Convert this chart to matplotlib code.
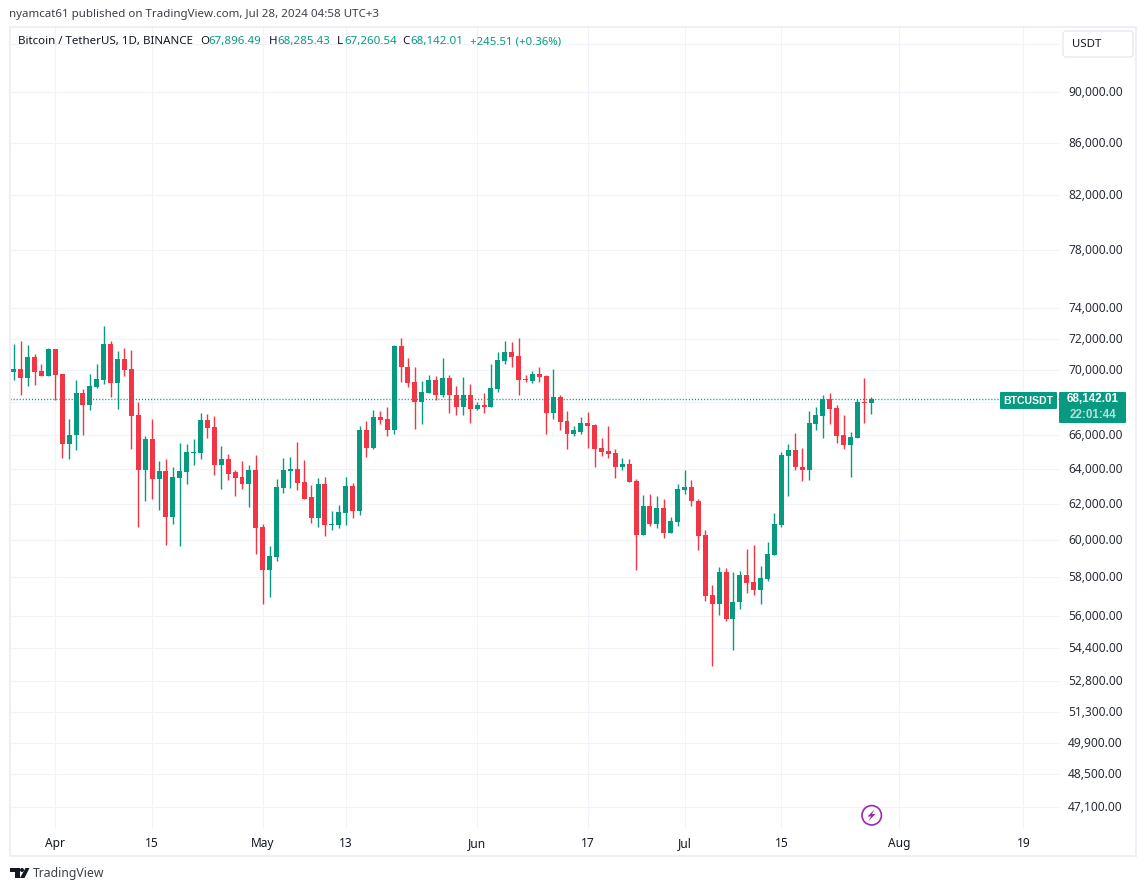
import matplotlib
matplotlib.use("Agg")
import pandas as pd
import matplotlib.dates as mdates
from matplotlib import pyplot as plt
from matplotlib.patches import Circle, FancyBboxPatch, Polygon, Rectangle
from matplotlib.transforms import ScaledTranslation

plt.rcParams['font.family'] = ['Noto Sans', 'DejaVu Sans']

GREEN = "#089981"
RED = "#F23645"
GRID = "#F0F3FA"
TEXT = "#131722"

first_day = "2024-03-26"

opens = [69820, 70010, 69450, 70780, 69890, 69570, 71300, 69700, 65410, 65950,
         68510, 67770, 68880, 69320, 71620, 69130, 70650, 70010, 67160, 63890,
         65710, 63370, 63830, 61230, 63430, 63770, 64880, 64880, 66850, 66430,
         64230, 64530, 63770, 63490, 63090, 63890, 60670, 58350, 59050, 62860,
         63830, 64000, 63200, 62340, 61170, 63090, 60780, 60780, 61450, 62970,
         61560, 66250, 65180, 67040, 66910, 66250, 71490, 70200, 69200, 67950,
         68510, 69320, 68440, 69450, 68440, 67640, 68380, 67520, 67770, 67700,
         68760, 70520, 71100, 70850, 69380, 69260, 69700, 69570, 67280, 68260,
         66790, 66010, 66180, 66670, 66550, 65180, 65000, 64880, 64110, 64290,
         63260, 60230, 61840, 60840, 61730, 60390, 60950, 62740, 62910, 62170,
         60230, 57040, 56580, 58250, 55820, 56680, 58090, 57720, 57310, 57880,
         59150, 60780, 64710, 65060, 64110, 63940, 66610, 67100, 68190, 67580,
         65950, 65350, 65770, 67950, 67896.49]
highs = [71620, 71810, 71550, 70970, 70330, 71360, 71300, 69700, 66910, 69320,
         68760, 69700, 70330, 72800, 71810, 71170, 71360, 71230, 67950, 65890,
         66910, 64410, 64530, 64110, 65470, 65410, 65710, 67280, 67220, 67100,
         65300, 64820, 63940, 64410, 64230, 64760, 60840, 59640, 63370, 64590,
         64650, 65530, 64470, 63030, 63430, 63490, 61560, 61890, 63490, 63140,
         66490, 66790, 67460, 67400, 67700, 71560, 72010, 70720, 70140, 69260,
         69640, 69570, 70720, 69640, 68950, 69510, 69070, 67950, 68510, 70330,
         71100, 71810, 71750, 72010, 69640, 69890, 70200, 69640, 70010, 68440,
         67400, 66490, 67040, 67340, 66610, 65770, 66490, 65120, 64590, 64530,
         63370, 62460, 62510, 62400, 62230, 61230, 63090, 63890, 63310, 62280,
         60510, 57570, 58510, 58460, 58250, 58300, 59480, 59690, 58560, 59850,
         61450, 64940, 65410, 66120, 65180, 67400, 67640, 68380, 68510, 67770,
         67160, 66180, 68190, 69450, 68285.43]
lows = [69320, 68380, 68950, 69010, 69570, 69570, 68090, 64590, 64530, 65060,
        65950, 67460, 68820, 69070, 68260, 67520, 69570, 65120, 60670, 62170,
        62280, 61620, 59690, 60840, 59640, 63090, 64230, 64530, 65770, 63600,
        62800, 63310, 62400, 62800, 61780, 59210, 56580, 56940, 58830, 62570,
        62860, 62740, 62280, 60890, 60670, 60180, 60510, 60620, 60780, 61170,
        61340, 64650, 65120, 66610, 65890, 66060, 69200, 68880, 66310, 66610,
        68510, 68130, 68260, 67280, 67160, 67160, 66670, 67460, 67280, 67640,
        68570, 70390, 70140, 68440, 69200, 69130, 69200, 66060, 66910, 66250,
        65120, 65890, 66060, 65180, 64060, 64710, 64590, 63430, 63940, 63200,
        58400, 60230, 60730, 60620, 60070, 60390, 60730, 62510, 61840, 59430,
        56780, 53490, 56020, 55720, 54270, 56330, 57150, 57040, 56580, 57780,
        59150, 60670, 62400, 63890, 63260, 63310, 66250, 65770, 66610, 65470,
        65120, 63490, 65770, 66670, 67260.54]
closes = [70010, 69450, 70780, 69820, 69570, 71300, 69640, 65410, 66000, 68510,
          67770, 68950, 69380, 71620, 69130, 70650, 69950, 67100, 63890, 65710,
          63370, 63830, 61230, 63490, 63830, 64940, 64940, 66850, 66370, 64230,
          64530, 63710, 63430, 63090, 63890, 60620, 58350, 59100, 62910, 63890,
          64000, 63140, 62280, 61170, 63090, 60780, 60840, 61510, 62970, 61560,
          66250, 65180, 67040, 66850, 66250, 71490, 70140, 69130, 67950, 68570,
          69320, 68440, 69450, 68380, 67640, 68380, 67520, 67770, 67700, 68820,
          70590, 71100, 70780, 69320, 69320, 69700, 69510, 67280, 68260, 66730,
          66010, 66250, 66670, 66490, 65120, 64940, 64820, 64110, 64290, 63200,
          60230, 61840, 60840, 61730, 60390, 61010, 62800, 62910, 62120, 60180,
          56990, 56580, 58250, 55820, 56730, 58090, 57670, 57310, 57930, 59210,
          60840, 64760, 65060, 64060, 63940, 66670, 67160, 68190, 67520, 65890,
          65350, 65830, 67950, 67890, 68142.01]

last_price = 68142.01

price_ticks = [47100, 48500, 49900, 51300, 52800, 54400, 56000, 58000, 60000, 62000,
               64000, 66000, 68000, 70000, 72000, 74000, 78000, 82000, 86000, 90000, 94000]
hidden_prices = [68000, 94000]

date_ticks = ["2024-04-01", "2024-04-15", "2024-05-01", "2024-05-13", "2024-06-01",
              "2024-06-17", "2024-07-01", "2024-07-15", "2024-08-01", "2024-08-19"]
date_labels = ["Apr", "15", "May", "13", "Jun", "17", "Jul", "15", "Aug", "19"]

days = mdates.date2num(pd.date_range(first_day, periods=len(opens)))
start = days[0]

fig = plt.figure(figsize=(11.47, 8.91), dpi=100)
ax = fig.add_axes([10 / 1147, (891 - 828) / 891, 1049 / 1147, 801 / 891])

# candles
colors = [GREEN if c >= o else RED for o, c in zip(opens, closes)]
ax.vlines(days, lows, highs, colors=colors, linewidth=1.0, zorder=3)
ax.bar(days, [abs(c - o) for o, c in zip(opens, closes)],
       bottom=[min(o, c) for o, c in zip(opens, closes)],
       width=0.72, color=colors, linewidth=0, zorder=4)
ax.axhline(last_price, color=GREEN, linewidth=1.0, linestyle=(0, (0.8, 1.4)), zorder=5)

ax.set_yscale("log")
ax.set_ylim(46200, 95500)
ax.set_xlim(start - 0.55, start + 151.15)

ax.yaxis.tick_right()
ax.set_yticks(price_ticks)
ax.set_yticklabels(["" if p in hidden_prices else f"{p:,.2f}" for p in price_ticks],
                   fontsize=8.6, color="#2A2E39")
ax.minorticks_off()
ax.set_xticks(mdates.date2num(pd.to_datetime(date_ticks)))
ax.set_xticklabels(date_labels, fontsize=8.6, color=TEXT, va="baseline")
ax.tick_params(axis="both", length=0)
ax.tick_params(axis="y", pad=6.5)
ax.tick_params(axis="x", pad=13.5)
ax.grid(True, color=GRID, linewidth=0.8)
ax.set_axisbelow(True)
for s in ax.spines.values():
    s.set_visible(False)
# labels sit a pixel above their grid line
for lbl in ax.get_yticklabels():
    lbl.set_transform(lbl.get_transform() + ScaledTranslation(0, 1 / 100, fig.dpi_scale_trans))

# everything around the plot, in picture pixels
over = fig.add_axes([0, 0, 1, 1], facecolor="none", zorder=10)
over.set_xlim(0, 1147)
over.set_ylim(891, 0)
over.axis("off")

over.add_patch(Rectangle((9.5, 26.5), 1126, 829.5, fill=False, edgecolor="#EEF0F6", linewidth=1.5))

over.text(9, 15, "nyamcat61 published on TradingView.com, Jul 28, 2024 04:58 UTC+3",
          fontsize=8.3, color="#3C4048", va="center")

over.text(18, 41.5, "Bitcoin / TetherUS, 1D, BINANCE", fontsize=8.3, color=TEXT, va="center")
for x, letter, vx, val in [(200, "O", 208.5, "67,896.49"), (269, "H", 277.5, "68,285.43"),
                           (337, "L", 344, "67,260.54"), (402, "C", 410, "68,142.01")]:
    over.text(x, 41.5, letter, fontsize=8.3, color=TEXT, va="center")
    over.text(vx, 41.5, val, fontsize=8.3, color=GREEN, va="center")
over.text(470, 41.5, "+245.51 (+0.36%)", fontsize=8.2, color=GREEN, va="center")

# USDT button
over.add_patch(FancyBboxPatch((1063, 31), 70, 26, boxstyle="round,pad=0,rounding_size=3",
                              facecolor="white", edgecolor="#E0E3EB", linewidth=0.8))
over.text(1072, 44.5, "USDT", fontsize=8.2, color=TEXT, va="center")

# last price labels
over.add_patch(FancyBboxPatch((1000, 392), 57, 17, boxstyle="round,pad=0,rounding_size=1",
                              facecolor=GREEN, edgecolor="none"))
over.text(1028.5, 400.5, "BTCUSDT", fontsize=7.6, fontweight="bold", family="Liberation Sans",
          color="white", ha="center", va="center")
over.add_patch(FancyBboxPatch((1059, 392), 67, 31, boxstyle="round,pad=0,rounding_size=1",
                              facecolor=GREEN, edgecolor="none"))
over.text(1093, 399.5, "68,142.01", fontsize=8.4, fontweight="bold", family="Liberation Sans",
          color="white", ha="center", va="center")
over.text(1093, 414.5, "22:01:44", fontsize=8.4, fontweight="bold", family="Liberation Sans",
          color="#B5E0D9", ha="center", va="center")

# lightning icon
over.add_patch(Circle((871.7, 815.3), 9.7, facecolor="white", edgecolor="#9C27B0", linewidth=1.2))
over.add_patch(Polygon([(874.5, 809.5), (867.5, 816.5), (871, 816.5), (868.5, 821),
                        (875.5, 814), (872, 814)], closed=True, facecolor="#9C27B0", edgecolor="none"))

# TradingView logo
over.add_patch(Polygon([(10, 868), (19.5, 868), (19.5, 878), (14.5, 878), (14.5, 872), (10, 872)],
                       closed=True, facecolor=TEXT, edgecolor="none"))
over.add_patch(Circle((22, 870), 2, facecolor=TEXT, edgecolor="none"))
over.add_patch(Polygon([(25.5, 868), (29.5, 868), (24.5, 878), (20, 878)],
                       closed=True, facecolor=TEXT, edgecolor="none"))
over.text(33, 873, "TradingView", fontsize=8.8, color="#3C4048", va="center")

fig.savefig("out.png", dpi=100)
